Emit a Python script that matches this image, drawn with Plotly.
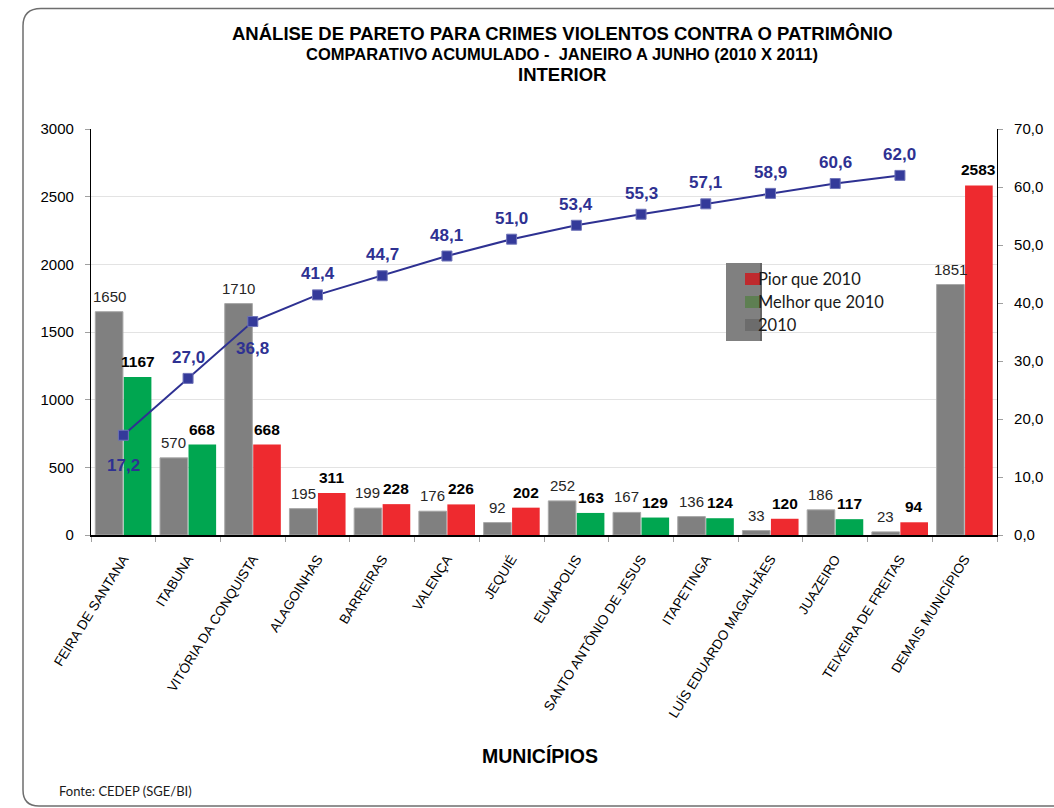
import plotly.graph_objects as go

# Municipalities and crime counts (Jan-Jun)
municipios = [
    "FEIRA DE SANTANA", "ITABUNA", "VITÓRIA DA CONQUISTA", "ALAGOINHAS",
    "BARREIRAS", "VALENÇA", "JEQUIÉ", "EUNÁPOLIS", "SANTO ANTÔNIO DE JESUS",
    "ITAPETINGA", "LUÍS EDUARDO MAGALHÃES", "JUAZEIRO", "TEIXEIRA DE FREITAS",
    "DEMAIS MUNICÍPIOS",
]
valores_2010 = [1650, 570, 1710, 195, 199, 176, 92, 252, 167, 136, 33, 186, 23, 1851]
valores_2011 = [1167, 668, 668, 311, 228, 226, 202, 163, 129, 124, 120, 117, 94, 2583]
situacao_2011 = ["melhor", "melhor", "pior", "pior", "pior", "pior", "pior",
                 "melhor", "melhor", "melhor", "pior", "melhor", "pior", "pior"]
acumulado_pct = [17.2, 27.0, 36.8, 41.4, 44.7, 48.1, 51.0, 53.4, 55.3, 57.1,
                 58.9, 60.6, 62.0, None]

GRAY = "#808080"
RED = "#EE2A2F"
GREEN = "#00A650"
NAVY = "#2E3192"

# Plot area in pixels
W, H = 1054, 808
L, R, T, B = 91, 997, 129, 535
BARGAP = 0.12
CAT_PX = (R - L) / len(municipios)
BAR_OFFSET_PX = CAT_PX * (1 - BARGAP) / 4  # centre of each bar within its group


def px(x):
    return (x - L) / (R - L)


def py(y):
    return (B - y) / (B - T)


pior = [v if s == "pior" else None for v, s in zip(valores_2011, situacao_2011)]
melhor = [v if s == "melhor" else None for v, s in zip(valores_2011, situacao_2011)]

fig = go.Figure()

fig.add_trace(go.Bar(
    x=municipios, y=valores_2010, name="2010", offsetgroup="a",
    marker=dict(color=GRAY, line=dict(color="#A8A8A8", width=1)),
    showlegend=False,
))
fig.add_trace(go.Bar(
    x=municipios, y=pior, name="Pior que 2010", offsetgroup="b",
    marker=dict(color=RED, line=dict(width=0)),
    showlegend=False,
))
fig.add_trace(go.Bar(
    x=municipios, y=melhor, name="Melhor que 2010", offsetgroup="b",
    marker=dict(color=GREEN, line=dict(width=0)),
    showlegend=False,
))
fig.add_trace(go.Scatter(
    x=municipios, y=acumulado_pct, yaxis="y2", mode="lines+markers",
    line=dict(color=NAVY, width=2),
    marker=dict(symbol="square", size=10, color="#343A9A", line=dict(color="#6F74B8", width=1)),
    cliponaxis=False, showlegend=False, connectgaps=False,
))

annotations = []
# bar value labels
for m, v10, v11 in zip(municipios, valores_2010, valores_2011):
    annotations.append(dict(
        x=m, y=v10, xref="x", yref="y", xshift=-BAR_OFFSET_PX, yshift=5,
        yanchor="bottom", showarrow=False, text=str(v10),
        font=dict(family="Liberation Sans", size=15, color="#262626"),
    ))
    annotations.append(dict(
        x=m, y=v11, xref="x", yref="y", xshift=BAR_OFFSET_PX, yshift=5,
        yanchor="bottom", showarrow=False, text=f"<b>{v11}</b>",
        font=dict(family="Liberation Sans", size=15.5, color="#000000"),
    ))

# cumulative percentage labels
label_shift = [-30, 21, -27] + [21] * 10
for m, v, s in zip(municipios, acumulado_pct, label_shift):
    if v is None:
        continue
    annotations.append(dict(
        x=m, y=v, xref="x", yref="y2", yshift=s, showarrow=False,
        text=f"<b>{v:.1f}</b>".replace(".", ","),
        font=dict(family="Liberation Sans", size=17, color=NAVY),
    ))

shapes = [
    # rounded frame
    dict(type="path", xref="paper", yref="paper",
         path=(f"M {px(1080)},{py(8.5)} L {px(41)},{py(8.5)} "
               f"Q {px(23)},{py(8.5)} {px(23)},{py(26)} "
               f"L {px(23)},{py(790)} Q {px(23)},{py(806)} {px(39)},{py(806)} "
               f"L {px(1080)},{py(806)}"),
         line=dict(color="#6E6E6E", width=1.5), layer="below"),
    # legend block
    dict(type="rect", xref="paper", yref="paper",
         x0=px(726), x1=px(762), y0=py(341), y1=py(263),
         fillcolor="#808080", line=dict(width=0), layer="above"),
    dict(type="line", xref="paper", yref="paper",
         x0=px(761), x1=px(761), y0=py(341), y1=py(263),
         line=dict(color="#5E5E5E", width=1.5), layer="above"),
]
legend_items = [("Pior que 2010", "#BF2A2E", 279),
                ("Melhor que 2010", "#5E7F52", 302),
                ("2010", "#6C6C6C", 325)]
for label, color, yc in legend_items:
    shapes.append(dict(type="rect", xref="paper", yref="paper",
                       x0=px(745), x1=px(760), y0=py(yc + 6), y1=py(yc - 6),
                       fillcolor=color, line=dict(width=0), layer="above"))
    annotations.append(dict(x=px(756), y=py(yc), xref="paper", yref="paper",
                            text=label, showarrow=False, xanchor="left", yanchor="middle",
                            font=dict(family="Lato", size=16.5, color="#1A1A1A")))

# titles
titles = [
    ("<b>ANÁLISE DE PARETO PARA CRIMES VIOLENTOS CONTRA O PATRIMÔNIO</b>", 33, 18.5),
    ("<b>COMPARATIVO ACUMULADO -  JANEIRO A JUNHO (2010 X 2011)</b>", 54, 16.5),
    ("<b>INTERIOR</b>", 74, 18.5),
]
for text, yc, size in titles:
    annotations.append(dict(x=px(562), y=py(yc), xref="paper", yref="paper",
                            text=text, showarrow=False, xanchor="center", yanchor="middle",
                            font=dict(family="Liberation Sans", size=size, color="#000000")))
annotations.append(dict(x=px(540), y=py(756), xref="paper", yref="paper",
                        text="<b>MUNICÍPIOS</b>", showarrow=False,
                        xanchor="center", yanchor="middle",
                        font=dict(family="Liberation Sans", size=19.5, color="#000000")))
annotations.append(dict(x=px(57), y=py(791), xref="paper", yref="paper",
                        text="Fonte: CEDEP (SGE/BI)", showarrow=False,
                        xanchor="left", yanchor="middle",
                        font=dict(family="Lato", size=13, color="#1A1A1A")))

fig.update_layout(
    width=W, height=H,
    margin=dict(l=L, r=W - R, t=T, b=H - B, pad=0),
    paper_bgcolor="white", plot_bgcolor="white",
    separators=",.",
    barmode="group", bargap=BARGAP, bargroupgap=0.03,
    showlegend=False,
    xaxis=dict(
        type="category", range=[-0.5, len(municipios) - 0.5], autorange=False,
        tickangle=-58, tickson="boundaries",
        ticks="outside", ticklen=5, tickcolor="#A0A0A0", ticklabelstandoff=9,
        showline=True, linecolor="#000000", linewidth=1.5,
        showgrid=False, automargin=False,
        tickfont=dict(family="Liberation Sans", size=13.5, color="#000000"),
    ),
    yaxis=dict(
        range=[0, 3000], dtick=500, ticks="outside", ticklen=5, tickcolor="#A0A0A0",
        ticklabelstandoff=8, automargin=False,
        showline=True, linecolor="#000000", linewidth=1.2,
        showgrid=True, gridcolor="#E3E3E3", gridwidth=1, zeroline=False,
        tickfont=dict(family="Liberation Sans", size=15, color="#000000"),
    ),
    yaxis2=dict(
        range=[0, 70], dtick=10, tickformat=".1f", overlaying="y", side="right",
        ticks="outside", ticklen=5, tickcolor="#A0A0A0",
        ticklabelstandoff=8, automargin=False,
        showline=True, linecolor="#000000", linewidth=1.2,
        showgrid=False, zeroline=False,
        tickfont=dict(family="Liberation Sans", size=15, color="#000000"),
    ),
    shapes=shapes,
    annotations=annotations,
)

fig.write_html("out.html")
